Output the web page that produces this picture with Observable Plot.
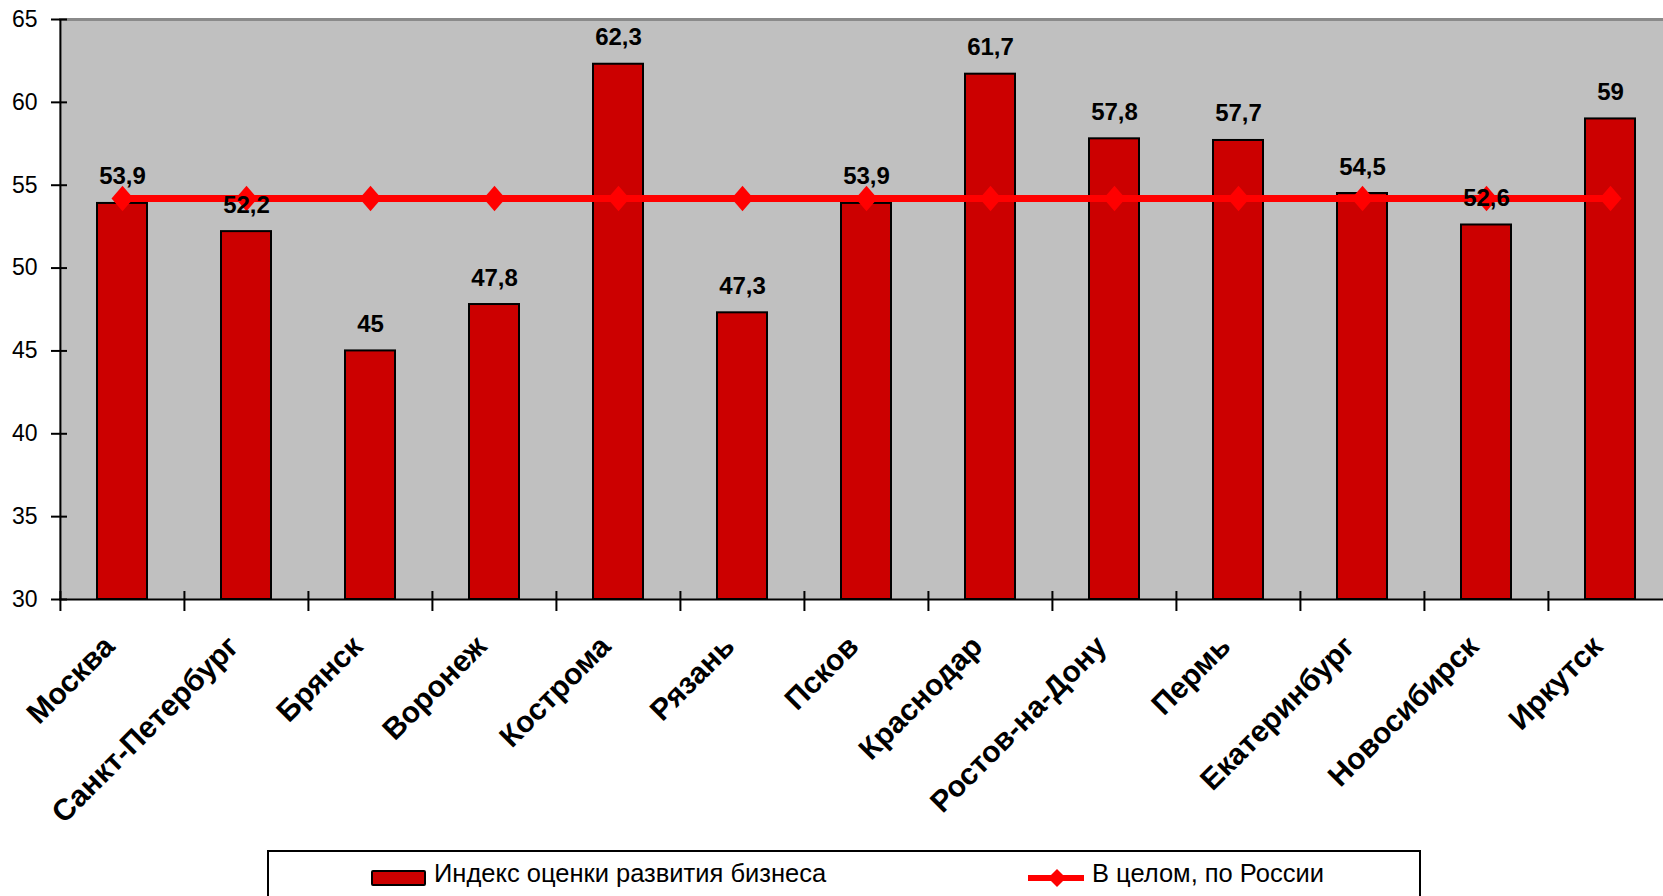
<!DOCTYPE html>
<html>
<head>
<meta charset="utf-8">
<script src="https://cdn.jsdelivr.net/npm/d3@7"></script>
<script src="https://cdn.jsdelivr.net/npm/@observablehq/plot@0.6"></script>
<style>
  html, body { margin: 0; padding: 0; overflow: hidden; background: white; width: 1663px; height: 896px; }
  #chart { position: absolute; left: 0; top: 0; width: 1673px; }
  #chart svg { max-width: none !important; }
  #legend { position: absolute; left: 267px; top: 850px; width: 1154px; height: 80px; border: 2px solid black; background: white; box-sizing: border-box; font-family: "Liberation Sans", Arial, sans-serif; font-size: 25.5px; color: black; }
  .lg { position: absolute; white-space: nowrap; }
</style>
</head>
<body>
<div id="chart"></div>
<div id="legend"></div>
<script>
// ---- data ----
const regions = ["Москва", "Санкт-Петербург", "Брянск", "Воронеж", "Кострома", "Рязань", "Псков", "Краснодар", "Ростов-на-Дону", "Пермь", "Екатеринбург", "Новосибирск", "Иркутск"];
const indexValues = [53.9, 52.2, 45, 47.8, 62.3, 47.3, 53.9, 61.7, 57.8, 57.7, 54.5, 52.6, 59];
const russiaValues = [54.2, 54.2, 54.2, 54.2, 54.2, 54.2, 54.2, 54.2, 54.2, 54.2, 54.2, 54.2, 54.2];
const yTicks = [30, 35, 40, 45, 50, 55, 60, 65];
const seriesNames = ["Индекс оценки развития бизнеса", "В целом, по России"];

const data = regions.map((r, i) => ({region: r, value: indexValues[i], russia: russiaValues[i]}));
const fmt = v => String(v).replace(".", ",");

// ---- layout ----
const W = 1673, H = 850, ML = 59, MR = 0, MT = 19, MB = 251;
const step = (W - ML - MR) / regions.length;
const font = "'Liberation Sans', Arial, sans-serif";

// slightly tall diamond marker
const diamond = {
  draw(ctx, size) {
    const r = Math.sqrt(size / Math.PI);
    const w = r * 1.1, h = r * 1.28;
    ctx.moveTo(0, -h); ctx.lineTo(w, 0); ctx.lineTo(0, h); ctx.lineTo(-w, 0); ctx.closePath();
  }
};

const chart = Plot.plot({
  width: W, height: H,
  marginLeft: ML, marginRight: MR, marginTop: MT, marginBottom: MB,
  style: {background: "white", fontFamily: font, color: "black", overflow: "visible", maxWidth: "none"},
  x: {domain: regions, paddingInner: 0.597, paddingOuter: 0.2985, axis: null},
  y: {domain: [30, 65], axis: null},
  marks: [
    Plot.frame({fill: "#c0c0c0", stroke: null}),
    Plot.ruleY([65], {stroke: "#8a8a8a", strokeWidth: 3}),
    Plot.barY(data, {x: "region", y1: 30, y2: "value", fill: "#cc0000", stroke: "black", strokeWidth: 2}),
    Plot.line(data, {x: "region", y: "russia", stroke: "#ff0000", strokeWidth: 7}),
    Plot.dot(data, {x: "region", y: "russia", symbol: diamond, r: 10, fill: "#ff0000", stroke: null}),
    Plot.text(data, {x: "region", y: "value", text: d => fmt(d.value), dy: -19, lineAnchor: "bottom", fontSize: 24, fontWeight: "bold", fill: "black"}),
    Plot.ruleY([30], {stroke: "black", strokeWidth: 2}),
    Plot.ruleX([regions[0]], {y1: 30, y2: 65, dx: -step / 2, stroke: "black", strokeWidth: 2}),
    Plot.axisY({ticks: yTicks, tickSize: 16, dx: 8, tickPadding: 14, fontSize: 23, tickFormat: d => String(d), label: null, stroke: "black", strokeWidth: 2, fill: "black"}),
    Plot.axisX({tickSize: 20, dy: -8, dx: -step / 2, tickFormat: () => "", label: null, stroke: "black", strokeWidth: 2}),
    Plot.text(data, {x: "region", frameAnchor: "bottom", text: "region", rotate: -45, textAnchor: "end", lineAnchor: "middle", dx: -13, dy: 42, fontSize: 30, fontWeight: "bold", fill: "black"})
  ]
});
document.getElementById("chart").appendChild(chart);

// ---- legend ----
const lg = document.getElementById("legend");
lg.innerHTML = `
  <div class="lg" style="left:102px; top:18px; width:55px; height:16px; background:#cc0000; border:2px solid black; box-sizing:border-box; border-radius:2px;"></div>
  <span class="lg" style="left:165px; top:7px;">${seriesNames[0]}</span>
  <svg class="lg" style="left:757px; top:11px;" width="60" height="30">
    <line x1="2" y1="15" x2="58" y2="15" stroke="#ff0000" stroke-width="6"/>
    <path d="M31,6 L40,15 L31,24 L22,15 Z" fill="#ff0000"/>
  </svg>
  <span class="lg" style="left:823px; top:7px;">${seriesNames[1]}</span>
`;
</script>
</body>
</html>
